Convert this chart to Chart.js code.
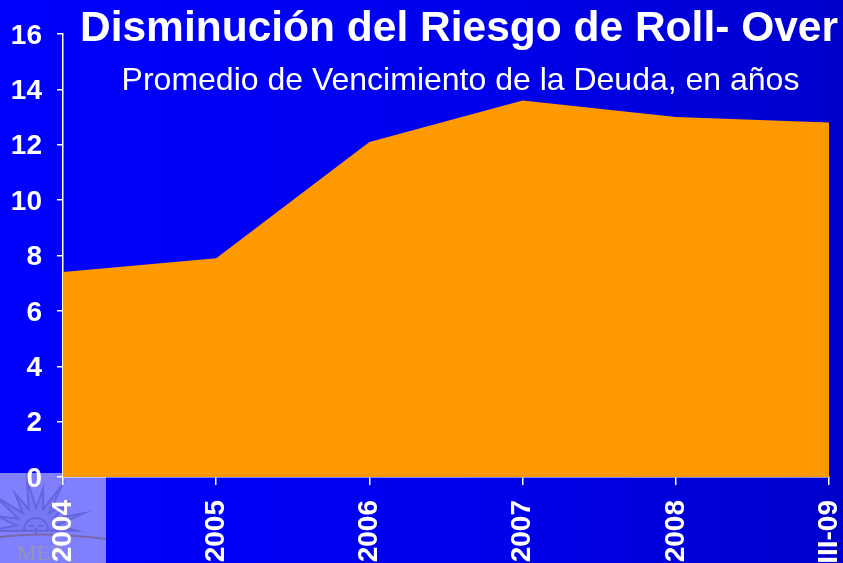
<!DOCTYPE html>
<html><head><meta charset="utf-8">
<style>html,body{margin:0;padding:0;background:#00f;overflow:hidden}canvas{display:block}</style>
<script src="https://cdn.jsdelivr.net/npm/chart.js@4"></script></head>
<body><canvas id="c" width="843" height="563"></canvas>
<script>
const categories = ["2004","2005","2006","2007","2008","III-09"];
const vencimiento = [7.4,7.9,12.1,13.6,13.0,12.8];
const titleText = "Disminución del Riesgo de Roll- Over";
const subtitleText = "Promedio de Vencimiento de la Deuda, en años";
const logoText = "MEF";

const slideDecor = {
  id:'slideDecor',
  beforeDraw(chart){
    const c = chart.ctx, W = chart.width, H = chart.height;
    const g = c.createLinearGradient(0,0,W,0);
    g.addColorStop(0,'#0000ff'); g.addColorStop(0.55,'#0000ee'); g.addColorStop(1,'#0000cc');
    c.fillStyle = g; c.fillRect(0,0,W,H);
    c.save();
    c.fillStyle = '#8080ff'; c.fillRect(0,473,106,90);
    // sun emblem, clipped at the horizon
    c.save();
    c.beginPath(); c.rect(0,473,106,63); c.clip();
    const cx = 36, cy = 528, tips = 9;
    c.beginPath();
    for(let i=0;i<=tips;i++){
      const a = Math.PI*0.98 + i*(Math.PI*1.04)/tips;
      const r = i%2 ? 40 : 50;
      const px = cx+Math.cos(a)*r, py = cy+Math.sin(a)*r;
      if(i===0) c.moveTo(px,py); else c.lineTo(px,py);
      if(i<tips){
        const b = a+(Math.PI*1.04)/tips/2;
        c.lineTo(cx+Math.cos(b)*20, cy+Math.sin(b)*20);
      }
    }
    c.closePath();
    c.fillStyle='#7878f4'; c.fill();
    c.strokeStyle='#6464dc'; c.lineWidth=2; c.stroke();
    c.beginPath(); c.arc(cx,cy+2,12,Math.PI,0); c.stroke();
    c.beginPath(); c.moveTo(cx-7,cy-2); c.lineTo(cx-2,cy-2); c.moveTo(cx+2,cy-2); c.lineTo(cx+7,cy-2); c.moveTo(cx,cy); c.lineTo(cx,cy+6); c.stroke();
    c.restore();
    c.strokeStyle = '#7868a8'; c.lineWidth = 2;
    c.beginPath(); c.moveTo(0,537); c.quadraticCurveTo(45,531,106,539); c.stroke();
    c.fillStyle = '#9494b4'; c.font = '22px "Liberation Serif"';
    c.textAlign='left'; c.textBaseline='alphabetic';
    c.fillText(logoText,17,560);
    c.restore();
  },
  afterDraw(chart){
    const c = chart.ctx;
    c.save(); c.fillStyle='#fff'; c.textAlign='center'; c.textBaseline='alphabetic';
    c.font='bold 42.5px "Liberation Sans"';
    c.fillText(titleText,459,41);
    c.font='32px "Liberation Sans"';
    c.fillText(subtitleText,460.5,90);
    c.restore();
  }
};

new Chart(document.getElementById('c'),{
  type:'line',
  data:{labels:categories,datasets:[{data:vencimiento,fill:'origin',backgroundColor:'#ff9900',borderColor:'#ff9900',borderWidth:0,pointRadius:0,tension:0}]},
  options:{
    responsive:false,animation:false,
    layout:{padding:{left:0,right:14,top:34,bottom:0}},
    plugins:{legend:{display:false},tooltip:{enabled:false}},
    scales:{
      x:{
        offset:false,
        afterFit(s){s.height=86;s.paddingLeft=0;s.paddingRight=0;},
        grid:{drawOnChartArea:false,color:'#fff',tickColor:'#fff',tickLength:8,lineWidth:1.5},
        border:{color:'#fff',width:1.5},
        ticks:{color:'#fff',font:{family:'Liberation Sans',weight:'bold',size:28},minRotation:90,maxRotation:90,padding:15,autoSkip:false}
      },
      y:{
        min:0,max:16,
        afterFit(s){s.width=63;s.paddingTop=0;s.paddingBottom=0;},
        grid:{drawOnChartArea:false,color:'#fff',tickColor:'#fff',tickLength:6,lineWidth:1.5},
        border:{color:'#fff',width:1.5},
        ticks:{color:'#fff',stepSize:2,font:{family:'Liberation Sans',weight:'bold',size:28},padding:15,labelOffset:2}
      }
    }
  },
  plugins:[slideDecor]
});
</script></body></html>
